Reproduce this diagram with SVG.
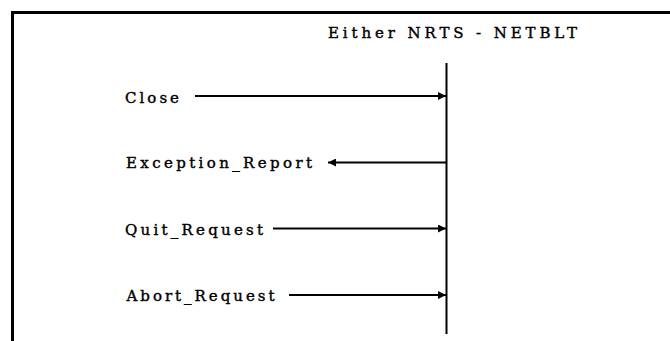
<svg xmlns="http://www.w3.org/2000/svg" width="670" height="341" viewBox="0 0 670 341">
  <style>
    .frame { fill: none; stroke: #000; stroke-width: 3; }
    .life { stroke: #000; stroke-width: 2; }
    .msg { stroke: #000; stroke-width: 2; fill: none; marker-end: url(#head); }
    .lbl { font-family: "DejaVu Serif", "Liberation Serif", serif; font-size: 15px; font-weight: 500; fill: #000; stroke: #000; stroke-width: 0.4; }
  </style>
  <defs>
    <marker id="head" viewBox="0 0 8 8" refX="8" refY="4" markerWidth="8" markerHeight="8" markerUnits="userSpaceOnUse" orient="auto">
      <path d="M0,0 L8,4 L0,8 Z" fill="#000"/>
    </marker>
  </defs>
  <rect width="670" height="341" fill="#fff"/>

  <!-- outer frame (top and left edges) -->
  <path class="frame" d="M12.5,341 L12.5,12.5 L670,12.5"/>

  <g id="lifeline">
    <text class="lbl" x="328" y="37.5" textLength="249" lengthAdjust="spacing">Either NRTS - NETBLT</text>
    <line class="life" x1="446.5" y1="63" x2="446.5" y2="334"/>
  </g>

  <g id="close">
    <text class="lbl" x="125" y="102.5" textLength="54" lengthAdjust="spacing">Close</text>
  </g>
  <g id="exception-report">
    <text class="lbl" x="126" y="167.5" textLength="186" lengthAdjust="spacing">Exception_Report</text>
  </g>
  <g id="quit-request">
    <text class="lbl" x="125" y="234.5" textLength="138" lengthAdjust="spacing">Quit_Request</text>
  </g>
  <g id="abort-request">
    <text class="lbl" x="126.5" y="300.5" textLength="148" lengthAdjust="spacing">Abort_Request</text>
  </g>

  <g id="connectors">
    <line class="msg" x1="195" y1="96" x2="446" y2="96"/>
    <line class="msg" x1="446" y1="162.5" x2="328" y2="162.5"/>
    <line class="msg" x1="273" y1="228.5" x2="446" y2="228.5"/>
    <line class="msg" x1="289" y1="295" x2="446" y2="295"/>
  </g>
</svg>
